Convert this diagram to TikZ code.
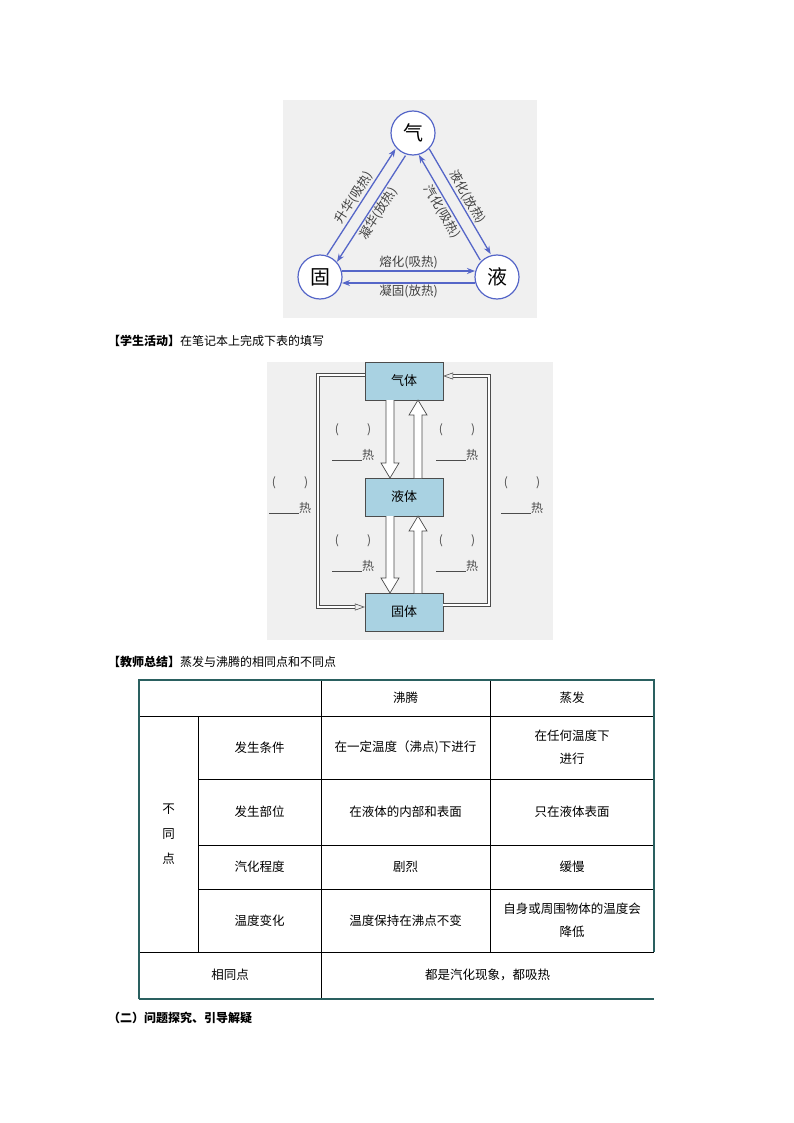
\documentclass[tikz,border=0pt]{standalone}
\usepackage{fontspec}
\newfontfamily\cjk{Noto Sans CJK SC}
\usetikzlibrary{arrows.meta,calc}
\definecolor{tblue}{HTML}{5566C8}
\definecolor{boxfill}{HTML}{A9D2E2}
\definecolor{teal}{HTML}{2A6060}
\tikzset{
  every node/.style={font=\cjk\fontsize{12}{14}\selectfont},
  circ/.style={circle,draw=tblue,line width=1.2pt,fill=white,minimum size=44pt,inner sep=0pt,font=\cjk\fontsize{20}{22}\selectfont},
  tarr/.style={draw=tblue,line width=1.3pt,-{Stealth[length=8pt,width=6pt]}},
  tlab/.style={font=\cjk\fontsize{12.5}{14}\selectfont,text=black!75,inner sep=1.5pt},
  sbox/.style={draw=black!70,fill=boxfill,minimum width=78pt,minimum height=38pt,inner sep=0pt,font=\cjk\fontsize{13}{15}\selectfont},
  outer/.style={double=white,double distance=2pt,draw=black!70,line width=0.6pt,-{Triangle[open,length=10pt,width=7pt]}},
  blank/.style={font=\cjk\fontsize{12}{14}\selectfont,text=black!70},
  cell/.style={font=\cjk\fontsize{12.5}{15}\selectfont,align=center},
}
% hollow arrow: x, y-start, y-end, sign (+1 down, -1 up)
\newcommand\harrow[4]{%
  \draw[black!70,line width=0.7pt,fill=white]
    (#1-4,#2) -- (#1-4,#3-#4*15) -- (#1-9,#3-#4*15) -- (#1,#3) -- (#1+9,#3-#4*15) -- (#1+4,#3-#4*15) -- (#1+4,#2);}
\begin{document}
\begin{tikzpicture}[x=1pt,y=-1pt]
\useasboundingbox (0,0) rectangle (794,1123);
\fill[white] (0,0) rectangle (794,1123);
% ---------- triangle figure ----------
\fill[black!6] (283,100) rectangle (537,318);
\node[circ] (g) at (413,133) {气};
\node[circ] (s) at (320,277) {固};
\node[circ] (l) at (497,277) {液};
\coordinate (a1) at (327,255.2); \coordinate (a2) at (395.5,149);
\coordinate (b1) at (405.5,155.6); \coordinate (b2) at (337,261.8);
\coordinate (c1) at (429.3,149); \coordinate (c2) at (490.6,254.1);
\coordinate (d1) at (480.2,260.1); \coordinate (d2) at (418.9,155);
\coordinate (e1) at (342,271); \coordinate (e2) at (475,271);
\coordinate (f1) at (475,283); \coordinate (f2) at (342,283);
\draw[tarr] (a1) -- node[tlab,sloped,above] {升华(吸热)} (a2);
\draw[tarr] (b1) -- node[tlab,sloped,below] {凝华(放热)} (b2);
\draw[tarr] (c1) -- node[tlab,sloped,above] {液化(放热)} (c2);
\draw[tarr] (d1) -- node[tlab,sloped,below] {汽化(吸热)} (d2);
\draw[tarr] (e1) -- node[tlab,above] {熔化(吸热)} (e2);
\draw[tarr] (f1) -- node[tlab,below] {凝固(放热)} (f2);
% ---------- heading 1 ----------
\node[anchor=west,inner sep=0pt] (h1) at (108,341) {\textbf{【学生活动】}在笔记本上完成下表的填写};
% ---------- box figure ----------
\fill[black!6] (267,362) rectangle (553,640);
\node[sbox] (gas) at (404,381) {气体};
\node[sbox] (liq) at (404,497) {液体};
\node[sbox] (sol) at (404,612) {固体};
\harrow{390}{400}{478}{1}
\harrow{418}{478}{400}{-1}
\harrow{390}{516}{593}{1}
\harrow{418}{593}{516}{-1}
\coordinate (la) at (318,375);
\coordinate (lb) at (318,607);
\coordinate (ra) at (489,605);
\coordinate (rb) at (489,376);
\draw[outer] ($(gas.west)+(0,-6)$) -- (la) -- (lb) -- ($(sol.west)+(0,-5)$);
\draw[outer] ($(sol.east)+(0,-7)$) -- (ra) -- (rb) -- ($(gas.east)+(0,-5)$);
\foreach \x/\y/\n in {353/430/a,457/430/b,290/483/c,522/483/d,353/541/e,457/541/f}{
  \node[blank] (p\n) at (\x,\y) {(\hspace{28pt})};
  \node[blank] (q\n) at (\x,\y+25) {\rule[-1pt]{30pt}{0.4pt}热};
}
% ---------- heading 2 ----------
\node[anchor=west,inner sep=0pt] (h2) at (108,662) {\textbf{【教师总结】}蒸发与沸腾的相同点和不同点};
% ---------- table ----------
\draw[black,line width=0.5pt] (139,716) -- (654,716);
\draw[black,line width=0.5pt] (198,779) -- (654,779) (198,845) -- (654,845) (198,889) -- (654,889);
\draw[black,line width=0.5pt] (139,952) -- (654,952);
\draw[black,line width=0.5pt] (198,716) -- (198,952);
\draw[black,line width=0.5pt] (321,680) -- (321,999);
\draw[black,line width=0.5pt] (490,680) -- (490,952);
\draw[teal,line width=1.3pt] (139,999) -- (139,680) -- (654,680) -- (654,952);
\draw[teal,line width=1.3pt] (139,999) -- (654,999);
\node[cell] (c01) at (405.5,698) {沸腾};
\node[cell] (c02) at (572,698) {蒸发};
\node[cell] (bt) at (168.5,834) {不\\[10pt]同\\[10pt]点};
\node[cell] (r1) at (259.5,747.5) {发生条件};
\node[cell] (r1a) at (405.5,747.5) {在一定温度（沸点)下进行};
\node[cell] (r1b) at (572,747.5) {在任何温度下\\[8pt]进行};
\node[cell] (r2) at (259.5,812) {发生部位};
\node[cell] (r2a) at (405.5,812) {在液体的内部和表面};
\node[cell] (r2b) at (572,812) {只在液体表面};
\node[cell] (r3) at (259.5,867) {汽化程度};
\node[cell] (r3a) at (405.5,867) {剧烈};
\node[cell] (r3b) at (572,867) {缓慢};
\node[cell] (r4) at (259.5,920.5) {温度变化};
\node[cell] (r4a) at (405.5,920.5) {温度保持在沸点不变};
\node[cell] (r4b) at (572,920.5) {自身或周围物体的温度会\\[8pt]降低};
\node[cell] (r5) at (230,975) {相同点};
\node[cell] (r5a) at (487.5,975) {都是汽化现象，都吸热};
\node[anchor=west,inner sep=0pt] (h3) at (108,1018) {\textbf{（二）问题探究、引导解疑}};
\end{tikzpicture}
\end{document}
